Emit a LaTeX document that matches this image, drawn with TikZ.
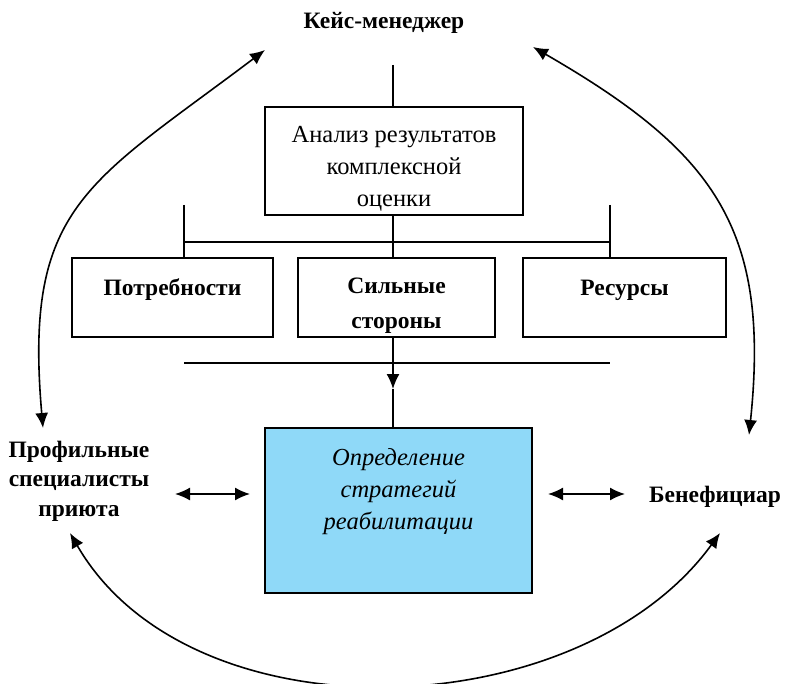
\documentclass[tikz,border=0pt]{standalone}
\usepackage{fontspec}
\setmainfont{Liberation Serif}
\usetikzlibrary{arrows.meta}
\definecolor{stratblue}{HTML}{8FD9F8}
\tikzset{
  box/.style={draw, line width=1.7pt, align=center, inner sep=0pt},
  actor/.style={font=\fontsize{23.5}{29.5}\selectfont\bfseries, align=center},
  tip/.style={-{Latex[length=15pt,width=13pt]}},
  both/.style={{Latex[length=15pt,width=13pt]}-{Latex[length=15pt,width=13pt]}},
}
\begin{document}
\begin{tikzpicture}[x=1pt,y=1pt,line width=1.6pt]
\useasboundingbox (0,0) rectangle (786,-684);
% actors
\node[actor] (cm) at (384,-23) {Кейс-менеджер};
\node[actor] (staff) at (79,-481) {Профильные\\специалисты\\приюта};
\node[actor] (ben) at (715,-497) {Бенефициар};
% boxes
\node[box, minimum width=258pt, minimum height=108pt, font=\fontsize{24.5}{32}\selectfont]
  (anal) at (394,-161) {\rule{0pt}{31pt}Анализ результатов\\комплексной\\оценки};
\node[box, minimum width=201pt, minimum height=79pt, text depth=20pt, font=\fontsize{23.5}{35}\selectfont\bfseries]
  (needs) at (172.5,-297.5) {Потребности};
\node[box, minimum width=197pt, minimum height=79pt, font=\fontsize{23.5}{35}\selectfont\bfseries]
  (strong) at (396.5,-297.5) {\rule{0pt}{32pt}Сильные\\стороны};
\node[box, minimum width=203pt, minimum height=79pt, text depth=20pt, font=\fontsize{23.5}{35}\selectfont\bfseries]
  (res) at (624.5,-297.5) {Ресурсы};
\node[box, fill=stratblue, minimum width=267pt, minimum height=165pt, font=\fontsize{24.5}{32}\selectfont\itshape]
  (strat) at (398.5,-510.5) {Определение\\стратегий\\реабилитации\\[12pt]\mbox{}};
% tree lines
\coordinate (top) at (393,-65);
\coordinate (nl) at (184,-205);
\coordinate (nr) at (610,-205);
\coordinate (bl) at (184,-242);
\coordinate (br) at (610,-242);
\coordinate (ll) at (184,-363);
\coordinate (lr) at (610,-363);
\coordinate (mid) at (393,-389);
\draw (top) -- (top |- anal.north);
\draw (bl) -- (br);
\draw (top |- anal.south) -- (top |- strong.north);
\draw (nl) -- (nl |- needs.north);
\draw (nr) -- (nr |- res.north);
\draw (ll) -- (lr);
\draw[tip] (mid |- strong.south) -- (mid);
\draw (mid) -- (mid |- strat.north);
% side arrows
\coordinate (a1) at (175,-494);
\coordinate (a2) at (250,-494);
\coordinate (a3) at (548,-494);
\coordinate (a4) at (625,-494);
\draw[both] (a1) -- (a2);
\draw[both] (a3) -- (a4);
% outer arcs
\coordinate (c1) at (265,-50);
\coordinate (c2) at (43,-428);
\coordinate (c3) at (533,-47);
\coordinate (c4) at (749,-435);
\coordinate (c5) at (70,-533);
\coordinate (c6) at (720,-533);
\draw[both] (c1) to[out=217,in=95,looseness=1.3] (c2);
\draw[both] (c3) to[out=-30,in=84,looseness=1.2] (c4);
\draw[both] (c5) to[out=-60,in=-126,looseness=0.95] (c6);
\end{tikzpicture}
\end{document}
